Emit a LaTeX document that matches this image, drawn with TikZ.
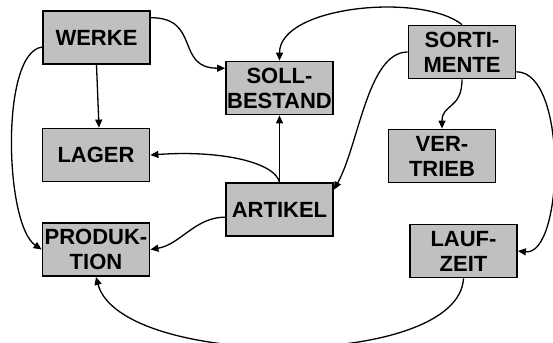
\documentclass[tikz,border=0pt]{standalone}
\usepackage{fontspec}
\setmainfont{Liberation Sans}
\usetikzlibrary{arrows.meta}
\definecolor{boxgray}{RGB}{192,192,192}

\begin{document}
\begin{tikzpicture}[x=1pt,y=-1pt,
    box/.style={draw, line width=1.8pt, fill=boxgray, minimum width=107pt, minimum height=53pt,
        inner sep=0pt, align=center, font=\fontsize{22}{25}\selectfont\bfseries},
    link/.style={line width=1.3pt, -{Triangle[length=8pt,width=7pt]}}]
    \useasboundingbox (0,0) rectangle (553,342);

    %nodes
    \node[box] (werke) at (96.5,37.5) {WERKE};
    \node[box] (lager) at (96,155) {LAGER};
    \node[box] (produktion) at (96,249.5) {PRODUK-\\TION};
    \node[box] (soll) at (279.5,88) {SOLL-\\BESTAND};
    \node[box] (artikel) at (279.5,209.5) {ARTIKEL};
    \node[box] (sortimente) at (462,52) {SORTI-\\MENTE};
    \node[box] (vertrieb) at (442,156) {VER-\\TRIEB};
    \node[box] (laufzeit) at (463.5,251) {LAUF-\\ZEIT};

    %from werke
    \draw[link] (werke.20) .. controls +(50,0) and +(-50,0) .. (soll.160);
    \draw[link] (werke.south) -- ([xshift=3pt]lager.north);
    \draw[link] (werke.190) .. controls +(-42,5) and +(-37,-25) .. (produktion.west);

    %from sortimente
    \draw[link] (sortimente.north) .. controls +(-40,-32) and +(0,-55) .. (soll.north);
    \draw[link] (sortimente.west) .. controls +(-40,0) and +(25,-45) .. (artikel.20);
    \draw[link] (sortimente.south) .. controls +(0,30) and +(0,-25) .. (vertrieb.north);
    \draw[link] (sortimente.-20) .. controls +(52,0) and +(46,5) .. (laufzeit.east);

    %from artikel
    \draw[link] (artikel.north) -- (soll.south);
    \draw[link] (artikel.north) .. controls +(-5,-20) and +(70,-5) .. (lager.east);
    \draw[link] (artikel.188) .. controls +(-30,0) and +(30,-5) .. (produktion.east);

    %back to produktion
    \draw[link] (laufzeit.south) .. controls +(-5,92) and +(25,92) .. (produktion.south);
\end{tikzpicture}
\end{document}
